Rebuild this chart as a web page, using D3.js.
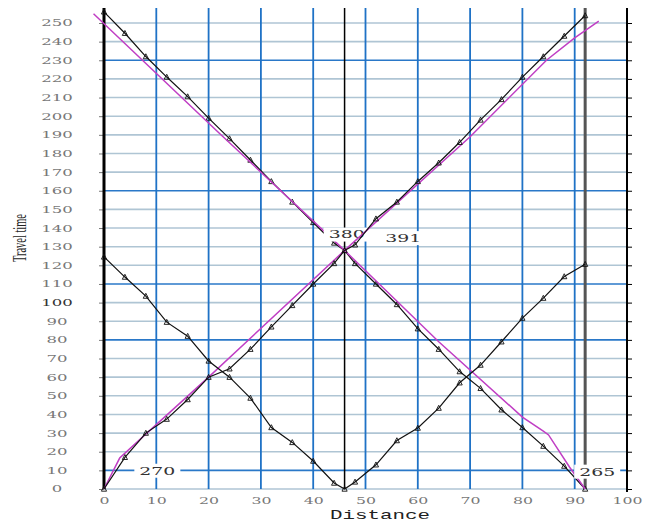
<!DOCTYPE html>
<html>
<head>
<meta charset="utf-8">
<script src="https://cdn.jsdelivr.net/npm/d3@7"></script>
<style>
  body { margin: 0; background: #fff; }
  svg { display: block; }
</style>
</head>
<body>
<svg id="chart" width="651" height="522"></svg>
<script>
// Survey stations (distance) and the travel times picked at each one
const distance = [0, 4, 8, 12, 16, 20, 24, 28, 32, 36, 40, 44, 46, 48, 52, 56, 60, 64, 68, 72, 76, 80, 84, 88, 92];
const timeForward = [256, 244.5, 232, 221, 210.5, 199, 188, 176.5, 165, 154, 143, 132, 128, 121, 110, 99, 86, 75, 63, 54, 42.5, 33, 23, 12.3, 0];
const timeReverse = [0, 17, 30, 37.5, 48, 60, 64.5, 75, 87, 98.5, 110, 121, 128, 131, 145, 154, 165, 175, 186, 198, 209, 221, 232, 243, 254];
const timeCentre = [124.5, 113.7, 103.5, 89.5, 82, 68.7, 60, 48.8, 33, 25, 15, 3.2, 0, 3.8, 13, 26, 32.7, 43.4, 57, 66.5, 79, 91.7, 102.4, 114, 120.6];

// Fitted travel-time curves
const fitForwardX = [-2, 22, 46, 64, 80, 84, 85, 89, 92];
const fitForwardY = [255, 191, 128, 79, 38.6, 31, 29, 11.8, 0];
const fitReverseX = [0, 3, 8.2, 20, 46, 70, 84.6, 90, 94.6];
const fitReverseY = [0, 16.6, 30, 60, 128, 189, 230, 242, 251];

// Axis ticks
const xTicks = [0, 10, 20, 30, 40, 50, 60, 70, 80, 90, 100];
const yTicks = [0, 10, 20, 30, 40, 50, 60, 70, 80, 90, 100, 110, 120, 130, 140, 150, 160, 170, 180, 190, 200, 210, 220, 230, 240, 250];
const markedTimes = [10, 80, 110, 160, 230];
const shotPoints = [46, 92];

// Annotations: text, distance, time
const noteText = ["270", "380", "391", "265"];
const noteDistance = [10.2, 46.4, 57.2, 94.3];
const noteTime = [9.8, 136.5, 134.6, 9.3];

const svg = d3.select("#chart");
const plotLeft = 104, plotRight = 627, plotTop = 8, plotBottom = 489;

const x = d3.scaleLinear().domain([0, 100]).range([plotLeft, plotRight]);
const y = d3.scaleLinear().domain([0, 250]).range([plotBottom, 23]);
const yTop = y.invert(plotTop);

const g = svg.append("g");

// horizontal grid
g.append("g").selectAll("line").data(yTicks).join("line")
  .attr("x1", x(0)).attr("x2", x(100))
  .attr("y1", d => y(d)).attr("y2", d => y(d))
  .attr("stroke", d => markedTimes.includes(d) ? "#2a78c8" : "#afc5d4")
  .attr("stroke-width", 1.6);

// vertical grid
g.append("g").selectAll("line").data(xTicks.filter(d => d > 0 && d < 100)).join("line")
  .attr("x1", d => x(d)).attr("x2", d => x(d))
  .attr("y1", y(yTop)).attr("y2", y(0))
  .attr("stroke", "#1f72c6").attr("stroke-width", 1.8);

// shot point markers
g.append("line")
  .attr("x1", x(shotPoints[0])).attr("x2", x(shotPoints[0]))
  .attr("y1", y(yTop)).attr("y2", y(0))
  .attr("stroke", "#000").attr("stroke-width", 1.5);
g.append("line")
  .attr("x1", x(shotPoints[1])).attr("x2", x(shotPoints[1]))
  .attr("y1", y(yTop)).attr("y2", y(0))
  .attr("stroke", "#555").attr("stroke-width", 3);

// left axis
const yAxis = d3.axisLeft(y).tickValues(yTicks).tickSize(5).tickSizeOuter(0);
const ya = g.append("g").attr("transform", `translate(${plotLeft},0)`).call(yAxis);
ya.select(".domain").remove();
ya.selectAll(".tick line").attr("stroke", "#777");
ya.selectAll(".tick text")
  .attr("x", -47).attr("dy", "0.35em")
  .attr("text-anchor", "middle")
  .attr("font-family", "DejaVu Serif").attr("font-size", 8.5)
  .attr("fill", d => d === 100 ? "#333" : "#777")
  .attr("textLength", d => String(d).length * 10.5)
  .attr("lengthAdjust", "spacingAndGlyphs");
g.append("line")
  .attr("x1", plotLeft).attr("x2", plotLeft)
  .attr("y1", y(yTop)).attr("y2", y(0))
  .attr("stroke", "#000").attr("stroke-width", 3);

// right axis
const yAxisR = d3.axisRight(y).tickValues(yTicks).tickSize(5).tickFormat("");
const yr = g.append("g").attr("transform", `translate(${plotRight},0)`).call(yAxisR);
yr.select(".domain").remove();
yr.selectAll(".tick line").attr("stroke", "#000");
g.append("line")
  .attr("x1", plotRight).attr("x2", plotRight)
  .attr("y1", y(yTop)).attr("y2", y(0) + 3)
  .attr("stroke", "#000").attr("stroke-width", 2);

// bottom axis
const xAxis = d3.axisBottom(x).tickValues(xTicks).tickSize(0).tickPadding(9);
const xa = g.append("g").attr("transform", `translate(0,${plotBottom})`).call(xAxis);
xa.select(".domain").remove();
xa.selectAll(".tick text")
  .attr("font-family", "DejaVu Serif").attr("font-size", 8.5)
  .attr("fill", "#777")
  .attr("textLength", d => String(d).length * 10)
  .attr("lengthAdjust", "spacingAndGlyphs");

// axis titles
svg.append("text")
  .attr("x", 380).attr("y", 519)
  .attr("text-anchor", "middle")
  .attr("font-family", "Liberation Mono").attr("font-size", 13)
  .attr("fill", "#222")
  .attr("textLength", 100).attr("lengthAdjust", "spacingAndGlyphs")
  .text("Distance");
svg.append("text")
  .attr("transform", "translate(26,238) rotate(-90)")
  .attr("text-anchor", "middle")
  .attr("font-family", "Liberation Serif").attr("font-size", 19)
  .attr("fill", "#222")
  .attr("textLength", 48).attr("lengthAdjust", "spacingAndGlyphs")
  .text("Travel time");

// series helpers
const line = d3.line().x(d => x(d[0])).y(d => y(d[1]));
const tri = "M0,-2.8L2.6,2.2L-2.6,2.2Z";

function drawSeries(xs, ys, withMarkers) {
  const pts = xs.map((d, i) => [d, ys[i]]);
  g.append("path").datum(pts)
    .attr("d", line).attr("fill", "none")
    .attr("stroke", "#111").attr("stroke-width", 1.2);
  if (withMarkers) {
    g.append("g").selectAll("path").data(pts).join("path")
      .attr("d", tri)
      .attr("transform", d => `translate(${x(d[0])},${y(d[1])})`)
      .attr("fill", "none").attr("stroke", "#111").attr("stroke-width", 0.9);
  }
}
function drawFit(xs, ys) {
  g.append("path").datum(xs.map((d, i) => [d, ys[i]]))
    .attr("d", line).attr("fill", "none")
    .attr("stroke", "#c03ec4").attr("stroke-width", 1.5);
}

// forward branch
drawSeries(distance, timeForward, true);
drawFit(fitForwardX, fitForwardY);

// annotations
const notes = g.append("g").selectAll("g").data(noteText).join("g")
  .attr("transform", (d, i) => `translate(${x(noteDistance[i])},${y(noteTime[i])})`);
notes.append("rect")
  .attr("x", -23).attr("y", -7).attr("width", 46).attr("height", 14)
  .attr("fill", "#fff");
notes.append("text")
  .attr("text-anchor", "middle").attr("dy", "0.35em")
  .attr("font-family", "DejaVu Serif").attr("font-size", 11)
  .attr("fill", "#333")
  .attr("textLength", 36).attr("lengthAdjust", "spacingAndGlyphs")
  .text(d => d);

// reverse and centre branches
drawFit(fitReverseX, fitReverseY);
drawSeries(distance, timeReverse, true);
drawSeries(distance, timeCentre, true);
</script>
</body>
</html>
